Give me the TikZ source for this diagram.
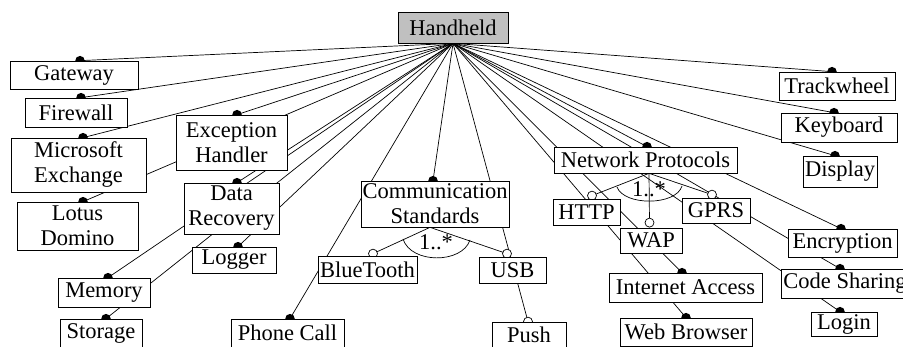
\documentclass[tikz,border=0pt]{standalone}
\usepackage{fontspec}
\setmainfont{Liberation Serif}
\pgfdeclarelayer{bg}
\pgfsetlayers{bg,main}
\definecolor{rootgray}{RGB}{192,192,192}
\begin{document}
\begin{tikzpicture}[x=1pt,y=-1pt,
  feat/.style={draw, fill=white, line width=0.7pt, inner sep=0pt, align=center, font=\fontsize{22.5}{25}\selectfont},
  card/.style={font=\fontsize{22.5}{25}\selectfont, inner sep=0pt},
  conn/.style={line width=0.7pt},
  mand/.style={circle, fill=black, inner sep=0pt, minimum size=9.5pt},
  opt/.style={circle, draw, fill=white, line width=0.7pt, inner sep=0pt, minimum size=9pt}]
\useasboundingbox (0,0) rectangle (903,347);

% features
\node[feat, fill=rootgray, minimum width=110pt, minimum height=31pt] (hand) at (453,27.5) {Handheld};
\node[feat, minimum width=128pt, minimum height=28pt] (gw) at (74,75) {Gateway};
\node[feat, minimum width=102pt, minimum height=29pt] (fw) at (76,112.5) {Firewall};
\node[feat, minimum width=135pt, minimum height=54pt] (msx) at (78.5,165) {Microsoft\\Exchange};
\node[feat, minimum width=121pt, minimum height=48pt] (lotus) at (77.5,226) {Lotus\\Domino};
\node[feat, minimum width=111pt, minimum height=55pt] (exch) at (231.5,142.5) {Exception\\Handler};
\node[feat, minimum width=95pt, minimum height=51pt] (drec) at (231.5,208.5) {Data\\Recovery};
\node[feat, minimum width=84pt, minimum height=26pt] (logger) at (234,260) {Logger};
\node[feat, minimum width=92pt, minimum height=29pt] (memory) at (104,292.5) {Memory};
\node[feat, minimum width=82pt, minimum height=28pt] (storage) at (101,333) {Storage};
\node[feat, minimum width=113pt, minimum height=28pt] (phone) at (287.5,333) {Phone Call};
\node[feat, minimum width=148pt, minimum height=46pt] (comm) at (435,204) {Communication\\Standards};
\node[feat, minimum width=99pt, minimum height=27pt] (bt) at (367.5,269.5) {BlueTooth};
\node[feat, minimum width=67pt, minimum height=26pt] (usb) at (512.5,270) {USB};
\node[feat, minimum width=74pt, minimum height=25pt] (push) at (529,334.5) {Push};
\node[feat, minimum width=183pt, minimum height=26pt] (netp) at (645.5,160) {Network Protocols};
\node[feat, minimum width=67pt, minimum height=26pt] (http) at (586.5,212) {HTTP};
\node[feat, minimum width=62pt, minimum height=25pt] (wap) at (651,240.5) {WAP};
\node[feat, minimum width=68pt, minimum height=25pt] (gprs) at (716,210.5) {GPRS};
\node[feat, minimum width=109pt, minimum height=28pt] (enc) at (842.5,243) {Encryption};
\node[feat, minimum width=128pt, minimum height=29pt] (code) at (845,283.5) {Code Sharing};
\node[feat, minimum width=66pt, minimum height=24pt] (login) at (844,324) {Login};
\node[feat, minimum width=153pt, minimum height=29pt] (inet) at (685.5,287.5) {Internet Access};
\node[feat, minimum width=132pt, minimum height=28pt] (web) at (686,332) {Web Browser};
\node[feat, minimum width=116pt, minimum height=28pt] (track) at (837,86) {Trackwheel};
\node[feat, minimum width=116pt, minimum height=29pt] (key) at (839,127.5) {Keyboard};
\node[feat, minimum width=74pt, minimum height=31pt] (disp) at (840,171.5) {Display};

% group cardinalities
\node[card] (c1) at (436,242) {1..*};
\node[card] (c2) at (649,189) {1..*};

\begin{pgfonlayer}{bg}
  % connectors from root
  \foreach \n/\s in {gw/6, fw/5, msx/4.5, lotus/5.5, exch/5.5, drec/5.5, logger/4,
      memory/4, storage/5, phone/2.5, comm/-2, netp/1.5, enc/-1.5, code/-5, login/-4,
      inet/-3.5, web/0, track/-5, key/-5, disp/-5, push/-1}
    \draw[conn] (hand.south) -- ([xshift=\s pt]\n.north);
  % group connectors
  \coordinate (ca) at ([xshift=-5pt]comm.south);
  \coordinate (na) at ([xshift=3.5pt]netp.south);
  \draw[conn] (ca) -- ([xshift=5.5pt,yshift=2pt]bt.north) node[opt]{};
  \draw[conn] (ca) -- ([xshift=-5.5pt,yshift=3pt]usb.north) node[opt]{};
  \draw[conn] (na) -- ([xshift=5.5pt,yshift=3pt]http.north) node[opt]{};
  \draw[conn] (na) -- ([xshift=-1.5pt,yshift=5pt]wap.north) node[opt]{};
  \draw[conn] (na) -- ([xshift=-4pt,yshift=3pt]gprs.north) node[opt]{};
  % group arcs
  \draw[conn] (403,239) .. controls (411,264) and (462,264) .. (470,240);
  \draw[conn] (617,187) .. controls (624,206) and (676,206) .. (682,186);
  % feature markers
  \foreach \n/\s in {gw/6, fw/5, msx/4.5, lotus/5.5, exch/5.5, drec/5.5, logger/4,
      memory/4, storage/5, phone/2.5, comm/-2, netp/1.5, enc/-1.5, code/-5, login/-4,
      inet/-3.5, web/0, track/-5, key/-5, disp/-5}
    \node[mand] at ([xshift=\s pt]\n.north) {};
  \node[opt] at ([xshift=-1pt]push.north) {};
\end{pgfonlayer}
\end{tikzpicture}
\end{document}
